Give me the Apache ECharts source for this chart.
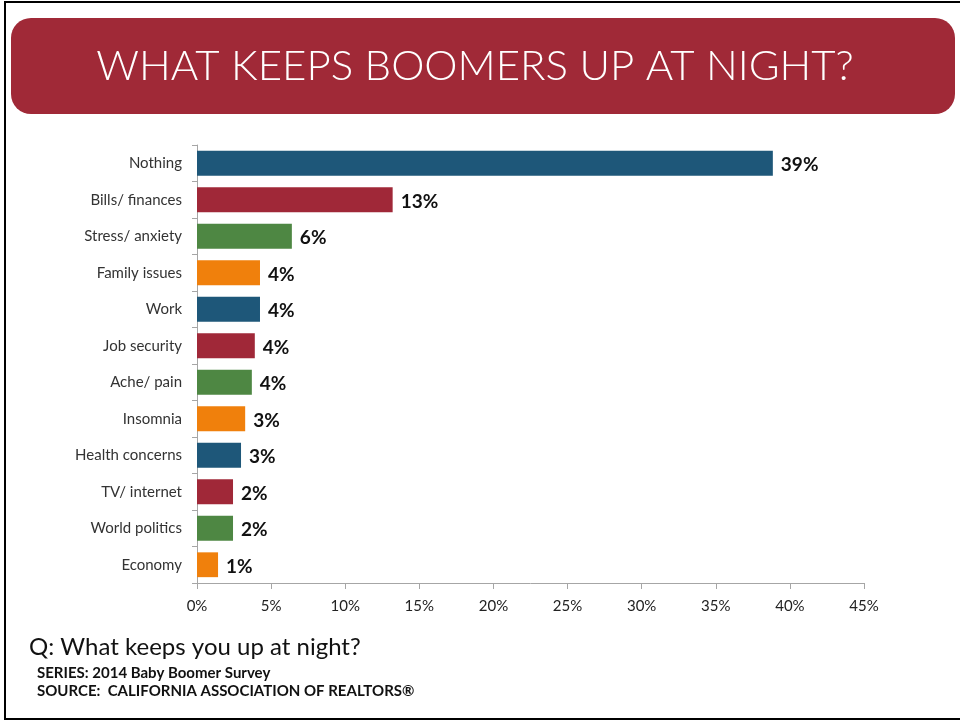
<!DOCTYPE html>
<html>
<head>
<meta charset="utf-8">
<script src="https://cdn.jsdelivr.net/npm/echarts@6/dist/echarts.min.js"></script>
<style>
html,body{margin:0;padding:0;background:#fff;}
#c{width:960px;height:721px;}
</style>
</head>
<body>
<div id="c"></div>
<script>
const categories = ["Nothing","Bills/ finances","Stress/ anxiety","Family issues","Work","Job security","Ache/ pain","Insomnia","Health concerns","TV/ internet","World politics","Economy"];
const values = [38.85, 13.2, 6.4, 4.25, 4.25, 3.9, 3.7, 3.25, 2.97, 2.43, 2.43, 1.42];
const xTicks = [0,5,10,15,20,25,30,35,40,45];
const barColors = ["#1e5779","#a02838","#4e8743","#f0800c"];
const titleText = "WHAT KEEPS BOOMERS UP AT NIGHT?";
const questionText = "Q: What keeps you up at night?";
const seriesText = "SERIES: 2014 Baby Boomer Survey";
const sourceText = "SOURCE:  CALIFORNIA ASSOCIATION OF REALTORS®";

const chart = echarts.init(document.getElementById('c'), null, {renderer:'canvas'});
const axisGray = "#a6a6a6";
chart.setOption({
  animation:false,
  backgroundColor:"#fff",
  grid:{left:197,right:96,top:145,bottom:138,containLabel:false},
  xAxis:{
    type:"value", min:xTicks[0], max:xTicks[xTicks.length-1], interval:5,
    splitLine:{show:false},
    axisLine:{show:true,lineStyle:{color:axisGray,width:1}},
    axisTick:{show:true,length:6,lineStyle:{color:axisGray}},
    axisLabel:{formatter:v=>v+"%",color:"#222",fontFamily:"Lato",fontSize:15,margin:16}
  },
  yAxis:{
    type:"category", data:categories, inverse:true,
    axisLine:{show:true,lineStyle:{color:axisGray,width:1}},
    axisTick:{show:true,length:5,lineStyle:{color:axisGray}},
    axisLabel:{color:"#333",fontFamily:"Lato",fontSize:15,margin:15}
  },
  series:[{
    type:"bar",
    data:values.map((v,i)=>({value:v,itemStyle:{color:barColors[i%barColors.length]}})),
    barCategoryGap:"32%",
    label:{show:true,position:"right",distance:8,offset:[0,2],
      formatter:p=>Math.round(p.value)+"%",
      color:"#111",fontFamily:"Lato",fontWeight:"bold",fontSize:19}
  }],
  graphic:[
    {type:"rect",shape:{x:5,y:2,width:960,height:717},style:{fill:null,stroke:"#000",lineWidth:2},silent:true},
    {type:"rect",shape:{x:11,y:18,width:944,height:96,r:20},style:{fill:"#a02937"}},
    {type:"text",x:475,y:66,style:{text:titleText,fill:"#fff",fontFamily:"Lato",fontWeight:300,fontSize:42,align:"center",verticalAlign:"middle"}},
    {type:"text",x:29,y:647,style:{text:questionText,fill:"#111",fontFamily:"Lato",fontSize:24,verticalAlign:"middle"}},
    {type:"text",x:37,y:673,style:{text:seriesText,fill:"#111",fontFamily:"Lato",fontWeight:"bold",fontSize:15,verticalAlign:"middle"}},
    {type:"text",x:37,y:691,style:{text:sourceText,fill:"#111",fontFamily:"Lato",fontWeight:"bold",fontSize:15,verticalAlign:"middle"}}
  ]
});
</script>
</body>
</html>
